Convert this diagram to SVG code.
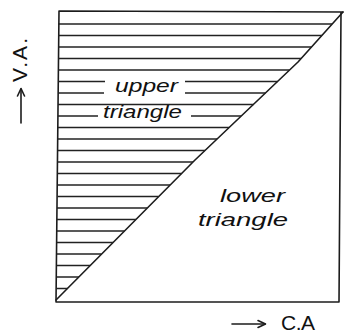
<svg xmlns="http://www.w3.org/2000/svg" width="344" height="335" viewBox="0 0 344 335">
<style>
.ln{stroke:#1c1c1c;stroke-width:1.6;fill:none;stroke-linecap:round;stroke-linejoin:round}
.h{stroke:#222;stroke-width:1.5;fill:none}
.lbl{font-family:"Liberation Sans",Arial,sans-serif;font-style:italic;font-size:19px;fill:#111}
.ax{font-family:"Liberation Sans",Arial,sans-serif;font-size:21px;fill:#111}
</style>
<rect width="344" height="335" fill="#fff"/>
<g id="square">
<polyline class="ln" points="343,12 59,11 56,302 339,302 341,12"/>
<polyline class="ln" points="343,12 298,62 195,160 56,300"/>
</g>
<g id="hatching">
<line class="h" x1="58" y1="24" x2="332" y2="24"/>
<line class="h" x1="58" y1="35.5" x2="322" y2="35.5"/>
<line class="h" x1="58" y1="47" x2="311.5" y2="47"/>
<line class="h" x1="58" y1="58.5" x2="301" y2="58.5"/>
<line class="h" x1="58" y1="70" x2="289.5" y2="70"/>
<line class="h" x1="58" y1="81.5" x2="105" y2="81.5"/>
<line class="h" x1="185" y1="81.5" x2="277.5" y2="81.5"/>
<line class="h" x1="58" y1="93" x2="104" y2="93"/>
<line class="h" x1="185" y1="93" x2="265.5" y2="93"/>
<line class="h" x1="58" y1="104.5" x2="253.5" y2="104.5"/>
<line class="h" x1="58" y1="116" x2="98" y2="116"/>
<line class="h" x1="191" y1="116" x2="241" y2="116"/>
<line class="h" x1="58" y1="127.5" x2="229" y2="127.5"/>
<line class="h" x1="58" y1="139" x2="217" y2="139"/>
<line class="h" x1="58" y1="150.5" x2="205" y2="150.5"/>
<line class="h" x1="57.5" y1="162" x2="193" y2="162"/>
<line class="h" x1="57.5" y1="173.5" x2="181.5" y2="173.5"/>
<line class="h" x1="57.5" y1="185" x2="170" y2="185"/>
<line class="h" x1="57.5" y1="196.5" x2="158.5" y2="196.5"/>
<line class="h" x1="57" y1="208" x2="147" y2="208"/>
<line class="h" x1="57" y1="219.5" x2="136" y2="219.5"/>
<line class="h" x1="57" y1="231" x2="124.5" y2="231"/>
<line class="h" x1="57" y1="242.5" x2="113" y2="242.5"/>
<line class="h" x1="57" y1="254" x2="101.5" y2="254"/>
<line class="h" x1="57" y1="265.5" x2="90" y2="265.5"/>
<line class="h" x1="57" y1="277" x2="79" y2="277"/>
<line class="h" x1="56.5" y1="288.5" x2="67.5" y2="288.5"/>
</g>
<g id="upper-label">
<text class="lbl" x="115" y="92" textLength="63" lengthAdjust="spacingAndGlyphs">upper</text>
<text class="lbl" x="103" y="118" textLength="79" lengthAdjust="spacingAndGlyphs">triangle</text>
</g>
<g id="lower-label">
<text class="lbl" x="220" y="202" textLength="65" lengthAdjust="spacingAndGlyphs">lower</text>
<text class="lbl" x="198" y="226" textLength="90" lengthAdjust="spacingAndGlyphs">triangle</text>
</g>
<g id="axes">
<line class="ln" x1="21" y1="123" x2="21" y2="89"/>
<polyline class="ln" points="17.5,96 21,88.5 24.5,96"/>
<text class="ax" transform="translate(27,82) rotate(-90)" x="0" y="0" textLength="44" lengthAdjust="spacing">V.A.</text>
<line class="ln" x1="232" y1="324" x2="265" y2="324"/>
<polyline class="ln" points="258,320.5 265.5,324 258,327.5"/>
<text class="ax" x="281" y="330" font-size="19" textLength="34" lengthAdjust="spacing">C.A</text>
</g>
</svg>
